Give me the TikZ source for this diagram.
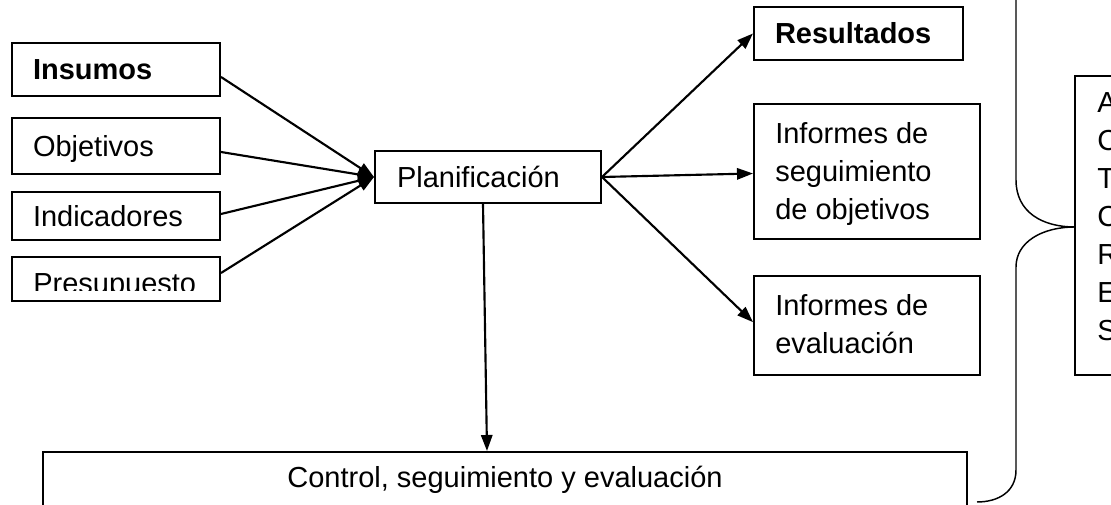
\documentclass[tikz,border=0pt]{standalone}
\usepackage{fontspec}
\setmainfont{Liberation Sans}
\usetikzlibrary{arrows.meta}
\begin{document}
\begin{tikzpicture}[x=0.75pt,y=-0.75pt,
  txt/.style={font=\fontsize{21.75}{28.5}\selectfont, inner sep=0pt},
  box/.style={txt, draw, line width=1.5pt},
  sbox/.style={box, align=left, text height=15.6pt, text depth=0pt},
  mbox/.style={box, align=left},
  conn/.style={line width=1.6pt, -{Triangle[length=12pt,width=8.5pt]}},
  bracepath/.style={line width=1.1pt}
]
\useasboundingbox (0,0) rectangle (1111,505);
\clip (0,0) rectangle (1111,505);

% input boxes
\node[sbox, minimum width=156pt, minimum height=39.75pt, text width=124.5pt, inner xsep=15.75pt] (ins) at (116,69.5) {\bfseries Insumos};
\node[sbox, minimum width=156pt, minimum height=42pt, text width=124.5pt, inner xsep=15.75pt] (obj) at (116,146) {Objetivos};
\node[sbox, minimum width=156pt, minimum height=36pt, text width=124.5pt, inner xsep=15.75pt] (ind) at (116,216) {Indicadores};
\node[box, minimum width=156pt, minimum height=33pt] (pre) at (116,279) {};
\begin{scope}
  \clip (12,257) rectangle (220,291);
  \node[txt, anchor=base west] (pretxt) at (33,294) {Presupuesto};
\end{scope}

% planning
\node[sbox, minimum width=169.5pt, minimum height=39pt, text width=136.5pt, inner xsep=16.5pt] (plan) at (488,177) {Planificaci\'on};

% outputs
\node[sbox, minimum width=156.75pt, minimum height=39.75pt, text width=125.25pt, inner xsep=15.75pt] (res) at (858.5,33.5) {\bfseries Resultados};
\node[box, minimum width=169.5pt, minimum height=101.25pt] (seg) at (867,171.5) {};
\node[txt, align=left, anchor=north west] (segtxt) at (775,122.5) {Informes de\\seguimiento\\de objetivos};
\node[box, minimum width=169.5pt, minimum height=74.25pt] (eva) at (867,325.5) {};
\node[txt, align=left, anchor=north west] (evatxt) at (775,294.5) {Informes de\\evaluaci\'on};

% control box (cut by the bottom edge)
\node[box, minimum width=693pt, minimum height=42pt] (ctrl) at (505,480) {Control, seguimiento y evaluaci\'on};

% right box (cut by the right edge)
\node[box, minimum width=30pt, minimum height=224.25pt] (rbox) at (1095,225.5) {};
\node[txt, align=left, anchor=north west] (rtxt) at (1097,92.5) {A\\C\\T\\C\\R\\E\\S};

% connectors
\draw[conn] ([yshift=-5.6pt]ins.east) -- (plan.west);
\draw[conn] ([yshift=-4.5pt]obj.east) -- (plan.west);
\draw[conn] ([yshift=1.5pt]ind.east) -- (plan.west);
\draw[conn] ([yshift=4.5pt]pre.east) -- (plan.west);
\draw[conn] (plan.east) -- (res.west);
\draw[conn] (plan.east) -- ([yshift=-1.5pt]seg.west);
\draw[conn] (plan.east) -- ([yshift=2.5pt]eva.west);
\draw[conn] ([xshift=-3.75pt]plan.south) -- ([xshift=-13.5pt]ctrl.north);

% brace
\draw[bracepath] (1016,-10) -- (1016,180) .. controls (1016,212) and (1042,227) .. (1075,227)
  .. controls (1042,227) and (1016,242) .. (1016,267) -- (1016,470)
  .. controls (1016,492) and (998,502) .. (977,502);
\end{tikzpicture}
\end{document}
